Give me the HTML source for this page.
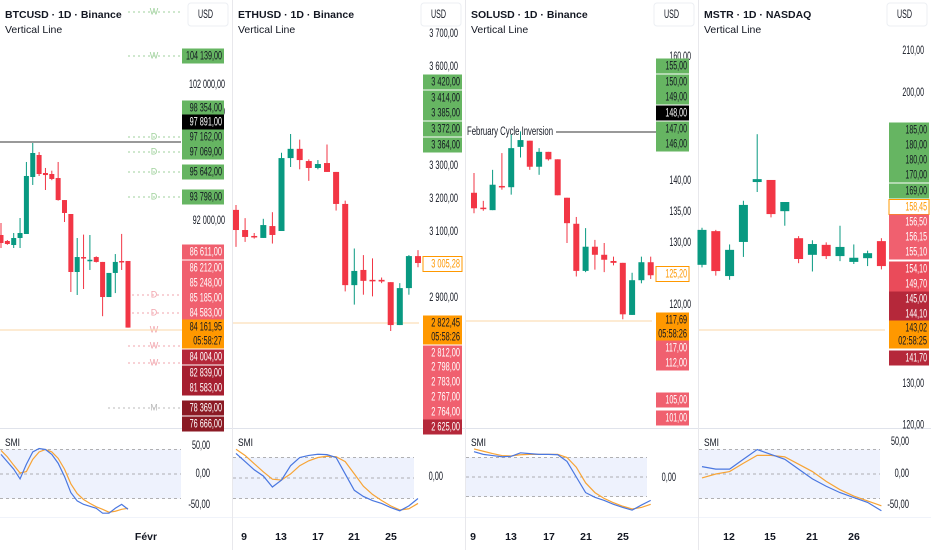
<!DOCTYPE html>
<html><head><meta charset="utf-8">
<style>
html,body{margin:0;padding:0;background:#fff;}
body{width:932px;height:550px;overflow:hidden;position:relative;font-family:"Liberation Sans",sans-serif;}
svg{position:absolute;left:0;top:0;}
text{font-family:"Liberation Sans",sans-serif;}
</style></head>
<body>
<svg id="chart" width="932" height="550" viewBox="0 0 932 550"></svg>
<script>
// ---------- DATA ----------
const btcOpen  =[90970,90530,90235,90750,91044,95235,96853,95530,95456,95160,93540,92515,88250,89350,89100,89350,88990,86410,88180,89060,89060];
const btcClose =[90382,90310,90750,91118,95310,97000,95456,95380,95090,93540,92590,88250,89350,89300,89150,88990,86410,88180,88990,88990,84162];
const btcHigh  =[91850,90600,91118,92220,96340,97735,97070,95900,95700,96340,93540,92515,90750,91000,90970,89400,88990,88180,89570,91050,89060];
const btcLow   =[90015,90250,90015,90015,91044,94650,95310,94280,95000,93500,91930,86780,86560,87000,88400,88950,85000,86410,86700,88400,84162];
const btcSmi   =[40,25,10,-10,20,45,52,50,40,22,-5,-38,-55,-62,-66,-70,-80,-80,-70,-62,-72];
const btcSig   =[48,35,18,2,5,30,45,50,45,32,10,-20,-40,-52,-60,-67,-72,-78,-76,-72,-70];

const ethOpen  =[3167,3106,3088,3082,3118,3103,3324,3352,3315,3294,3309,3282,3185,2939,2985,2955,2955,2948,2818,2930,3027];
const ethClose =[3106,3085,3085,3121,3091,3324,3352,3318,3294,3306,3282,3185,2939,2982,2952,2952,2950,2818,2930,3027,3006];
const ethHigh  =[3182,3142,3097,3140,3160,3340,3397,3380,3320,3318,3365,3282,3195,3050,3030,3020,2962,2948,2945,3030,3045];
const ethLow   =[3055,3070,3080,3082,3065,3103,3297,3290,3255,3290,3282,3165,2920,2880,2910,2905,2945,2800,2818,2910,2993];
const ethSmi   =[60,40,20,5,-22,-5,30,50,55,58,57,50,10,-30,-45,-55,-62,-72,-80,-68,-50];
const ethSig   =[70,55,35,15,-3,-5,10,30,42,50,53,52,40,10,-20,-40,-55,-68,-78,-75,-62];

const solOpen  =[138.1,135.7,135.3,139.2,139.0,145.5,146.5,142.3,144.7,143.5,137.3,133.1,125.5,129.4,128.1,127.1,126.8,118.4,124.0,126.9];
const solClose =[135.6,135.6,139.4,139.0,145.3,146.6,142.3,144.7,143.5,137.7,133.2,125.5,129.4,128.1,127.3,126.8,118.5,124.0,126.9,124.8];
const solHigh  =[141.3,136.8,141.8,144.5,147.5,148.0,146.5,145.3,144.7,143.5,137.3,134.2,132.4,130.5,130.0,127.8,126.8,125.2,127.8,127.8];
const solLow   =[134.8,135.2,135.3,138.6,137.8,143.8,141.8,141.0,143.3,137.7,130.0,124.6,125.3,125.7,125.3,126.4,117.7,118.4,123.5,124.2];
const solSmi   =[65,58,55,52,53,62,60,58,58,57,40,0,-40,-52,-60,-70,-78,-85,-72,-60];
const solSig   =[72,66,60,55,54,57,58,58,58,58,50,25,-15,-40,-55,-66,-75,-82,-78,-70];

const mstrOpen =[158.6,166.7,155.9,164.1,178.5,179.0,171.5,165.0,161.0,163.4,160.7,159.3,160.2,164.3];
const mstrClose=[167.0,157.1,162.2,173.0,179.2,170.8,173.7,160.0,163.6,160.7,162.9,160.3,161.4,158.3];
const mstrHigh =[167.5,167.0,163.5,174.0,190.0,179.0,173.7,165.5,164.5,164.0,168.0,163.5,162.0,165.0];
const mstrLow  =[158.0,156.0,155.0,160.5,176.1,170.0,168.0,159.0,157.0,160.0,159.5,158.8,158.3,157.5];
const mstrSmi  =[15,10,10,30,50,40,30,10,-10,-25,-38,-48,-58,-75];
const mstrSig  =[-8,0,5,22,38,38,35,20,5,-15,-32,-45,-55,-65];

const btcTicks =["100 000,00","102 000,00","92 000,00"];
const btcTickVals=[100000,102000,92000];
const ethTicks =["3 700,00","3 600,00","3 300,00","3 200,00","3 100,00","2 900,00"];
const ethTickVals=[3700,3600,3300,3200,3100,2900];
const solTicks =["160,00","140,00","135,00","130,00","120,00"];
const solTickVals=[160,140,135,130,120];
const mstrTicks=["210,00","200,00","130,00","120,00"];
const mstrTickVals=[210,200,130,120];

const ethDates=["9","13","17","21","25"];
const solDates=["9","13","17","21","25"];
const mstrDates=["12","15","21","26"];

// ---------- RENDER ----------
const svg=document.getElementById('chart');
const NS='http://www.w3.org/2000/svg';
function el(tag,attrs,parent){const e=document.createElementNS(NS,tag);for(const k in attrs)e.setAttribute(k,attrs[k]);(parent||svg).appendChild(e);return e;}
function txt(x,y,s,attrs,parent){const t=el('text',Object.assign({x:x,y:y,'font-size':10,fill:'#131722','dominant-baseline':'middle'},attrs||{}),parent);t.textContent=s;return t;}
function ntxt(xEnd,y,s,attrs,parent){const w=(s.length*3.6).toFixed(1);return txt(xEnd,y,s,Object.assign({'text-anchor':'end','font-size':12,textLength:w,lengthAdjust:'spacingAndGlyphs'},attrs||{}),parent);}

const GREEN='#089981',RED='#f23645';
const LGREEN='#66b562',PINK='#f0606f',DRED='#b5283a',ORANGE='#ff9800';

const panels=[
 {key:'btc',x0:0,title:'BTCUSD · 1D · Binance',o:btcOpen,c:btcClose,h:btcHigh,l:btcLow,smi:btcSmi,sig:btcSig,
  yRef:85,pRef:102000,k:0.0136,cx0:1,sp:6.35,bw:5,ticks:btcTicks,tickVals:btcTickVals,
  sy0:474,sk:0.49,cur:330,hline:142,dates:["Févr"],datePos:[146],smiLabels:[["50,00",446],["0,00",474],["-50,00",505]]},
 {key:'eth',x0:233,title:'ETHUSD · 1D · Binance',o:ethOpen,c:ethClose,h:ethHigh,l:ethLow,smi:ethSmi,sig:ethSig,
  yRef:67,pRef:3600,k:0.33,cx0:236,sp:9.1,bw:6,ticks:ethTicks,tickVals:ethTickVals,
  sy0:478,sk:0.41,cur:323,dates:ethDates,datePos:[244,281,318,354,391],smiLabels:[["0,00",477]]},
 {key:'sol',x0:466,title:'SOLUSD · 1D · Binance',o:solOpen,c:solClose,h:solHigh,l:solLow,smi:solSmi,sig:solSig,
  yRef:57,pRef:160,k:6.2,cx0:474,sp:9.3,bw:6,ticks:solTicks,tickVals:solTickVals,
  sy0:477,sk:0.39,cur:321,dates:solDates,datePos:[473,511,549,586,623],smiLabels:[["0,00",478]]},
 {key:'mstr',x0:699,title:'MSTR · 1D · NASDAQ',o:mstrOpen,c:mstrClose,h:mstrHigh,l:mstrLow,smi:mstrSmi,sig:mstrSig,
  yRef:51,pRef:210,k:4.16,cx0:702,sp:13.8,bw:9,ticks:mstrTicks,tickVals:mstrTickVals,
  sy0:474,sk:0.49,cur:330,dates:mstrDates,datePos:[729,770,812,854],smiLabels:[["50,00",442],["0,00",474],["-50,00",505]]}
];

const boxes={
 btc:[["104 139,00",56,LGREEN],["98 354,00",108,LGREEN],["97 891,00",122,'#000'],["97 162,00",137,LGREEN],["97 069,00",152,LGREEN],["95 642,00",172,LGREEN],["93 798,00",197,LGREEN],
  ["86 611,00",252,PINK],["86 212,00",268,PINK],["85 248,00",283,PINK],["85 185,00",298,PINK],["84 583,00",313,PINK],["84 161,95",327,ORANGE],["05:58:27",341,ORANGE],
  ["84 004,00",357,DRED],["82 839,00",373,'#a61f30'],["81 583,00",388,'#a61f30'],["78 369,00",408,'#8b1a24'],["76 666,00",424,'#8b1a24']],
 eth:[["3 420,00",82,LGREEN],["3 414,00",98,LGREEN],["3 385,00",113,LGREEN],["3 372,00",129,LGREEN],["3 364,00",145,LGREEN],["3 005,28",264,'outline'],
  ["2 822,45",323,ORANGE],["05:58:26",337,ORANGE],["2 812,00",353,PINK],["2 798,00",367,PINK],["2 783,00",382,PINK],["2 767,00",397,PINK],["2 764,00",412,PINK],["2 625,00",427,DRED]],
 sol:[["155,00",66,LGREEN],["150,00",82,LGREEN],["149,00",97,LGREEN],["148,00",113,'#000'],["147,00",129,LGREEN],["146,00",144,LGREEN],["125,20",274,'outline'],
  ["117,69",320,ORANGE],["05:58:26",334,ORANGE],["117,00",348,PINK],["112,00",363,PINK],["105,00",400,PINK],["101,00",418,PINK]],
 mstr:[["185,00",130,LGREEN],["180,00",145,LGREEN],["180,00",160,LGREEN],["170,00",175,LGREEN],["169,00",191,LGREEN],["158,45",207,'outline'],
  ["156,50",222,PINK],["156,15",237,PINK],["155,10",252,PINK],["154,10",269,'#ea4b5a'],["149,70",284,'#ea4b5a'],["145,00",299,DRED],["144,10",314,DRED],
  ["143,02",328,ORANGE],["02:58:25",341,ORANGE],["141,70",358,DRED]]
};
const boxX={btc:[182,42],eth:[423,39],sol:[656,33],mstr:[889,40]};

// decorative dotted level markers [panel x0 offset start, end, y, letter, color]
const markers=[[128,180,12,'W','#9fd19c'],[128,180,56,'W','#9fd19c'],[128,180,137,'D','#9fd19c'],[128,180,152,'D','#9fd19c'],[128,180,172,'D','#9fd19c'],[128,180,197,'D','#9fd19c'],
 [132,180,295,'D','#f2a5ad'],[132,180,313,'D','#f2a5ad'],[128,180,330,'W','#f2a5ad'],[128,180,346,'W','#f2a5ad'],[128,180,363,'W','#f2a5ad'],[108,180,408,'M','#bbb']];

panels.forEach(p=>{
  const g=el('g',{});
  
  
  const plotW=181;
  const yP=v=>p.yRef+(p.pRef-v)*p.k;
  const xC=i=>p.cx0+i*p.sp;
  const yS=v=>p.sy0-v*p.sk;

  el('line',{x1:p.x0,x2:p.x0+232,y1:428.5,y2:428.5,stroke:'#e0e3eb'},g);
  if(p.x0>0) el('line',{x1:p.x0-0.5,x2:p.x0-0.5,y1:0,y2:550,stroke:'#e8e8ec'},g);

  const t1=txt(p.x0+5,15,p.title,{'font-size':10.5,'font-weight':'bold'},g);
  
  
  const t2=txt(p.x0+5,30,'Vertical Line',{'font-size':10.5},g);
  
  

  const ub=el('rect',{x:p.x0+188,y:3,width:40,height:23,rx:3,fill:'#fff',stroke:'#eceff3'},g);
  
  
  txt(p.x0+198,15,'USD',{'font-size':12,textLength:15,lengthAdjust:'spacingAndGlyphs'},g);

  if(p.key==='btc'){
    markers.forEach(m=>{
      el('line',{x1:m[0],x2:m[1],y1:m[2],y2:m[2],stroke:m[4],'stroke-dasharray':'2 3'},g);
      txt(154,m[2],m[3],{'font-size':9,fill:m[4],'text-anchor':'middle'},g);
    });
  }

  p.ticks.forEach((s,i)=>{
    const tt=ntxt(p.x0+225,yP(p.tickVals[i]),s,{},g);
    
    
  });

  el('line',{x1:p.x0,x2:p.x0+plotW+5,y1:p.cur,y2:p.cur,stroke:'#fbd7a7','stroke-width':1},g);
  if(p.hline) el('line',{x1:p.x0,x2:p.x0+plotW,y1:p.hline,y2:p.hline,stroke:'#333','stroke-width':1},g);
  if(p.key==='sol'){
    el('line',{x1:p.x0+90,x2:p.x0+190,y1:132,y2:132,stroke:'#333'},g);
    const ft=txt(p.x0+1,132,'February Cycle Inversion',{'font-size':11.5,textLength:86,lengthAdjust:'spacingAndGlyphs'},g);
    
    
  }

  p.o.forEach((o,i)=>{
    const c=p.c[i],col=c>=o?GREEN:RED,x=xC(i);
    const wk=el('line',{x1:x,x2:x,y1:yP(p.h[i]),y2:yP(p.l[i]),stroke:col,'stroke-width':1},g);
    
    
    const top=Math.min(yP(o),yP(c)),hh=Math.max(1.5,Math.abs(yP(o)-yP(c)));
    const r=el('rect',{x:x-p.bw/2,y:top,width:p.bw,height:hh,fill:col},g);
    
    
  });

  const [bx,bw]=boxX[p.key];
  boxes[p.key].forEach(b=>{
    const out=b[2]==='outline';
    const r=el('rect',{x:bx,y:b[1]-7.5,width:bw,height:15,fill:out?'#fff':b[2],stroke:out?ORANGE:'none'},g);
    
    
    ntxt(bx+bw-2,b[1]+0.5,b[0],{fill:out?ORANGE:(b[2]===LGREEN||b[2]===ORANGE?'#131722':'#fff')},g);
  });

  const bTop=yS(50),bBot=yS(-50);
  el('rect',{x:p.x0,y:bTop,width:plotW,height:bBot-bTop,fill:'#eef2fd'},g);
  [bTop,yS(0),bBot].forEach(y=>el('line',{x1:p.x0,x2:p.x0+plotW,y1:y,y2:y,stroke:'#999','stroke-dasharray':'3 3','stroke-width':0.8},g));
  const sl=txt(p.x0+5,443,'SMI',{'font-size':11,textLength:15,lengthAdjust:'spacingAndGlyphs'},g);
  
  
  const ptsS=p.smi.map((v,i)=>xC(i)+','+yS(v)).join(' ');
  const ptsG=p.sig.map((v,i)=>xC(i)+','+yS(v)).join(' ');
  const l2=el('polyline',{points:ptsG,fill:'none',stroke:'#f7a436','stroke-width':1.2},g);
  
  
  const l1=el('polyline',{points:ptsS,fill:'none',stroke:'#4a77e0','stroke-width':1.2},g);
  
  
  p.smiLabels.forEach(s=>ntxt(p.x0+210,s[1],s[0],{},g));

  el('line',{x1:p.x0,x2:p.x0+232,y1:517.5,y2:517.5,stroke:'#f0f3fa'},g);
  p.dates.forEach((d,i)=>{
    const dt=txt(p.datePos[i],537,d,{'font-size':10.5,'font-weight':'bold','text-anchor':'middle'},g);
    
    
  });
});
</script>
</body></html>
